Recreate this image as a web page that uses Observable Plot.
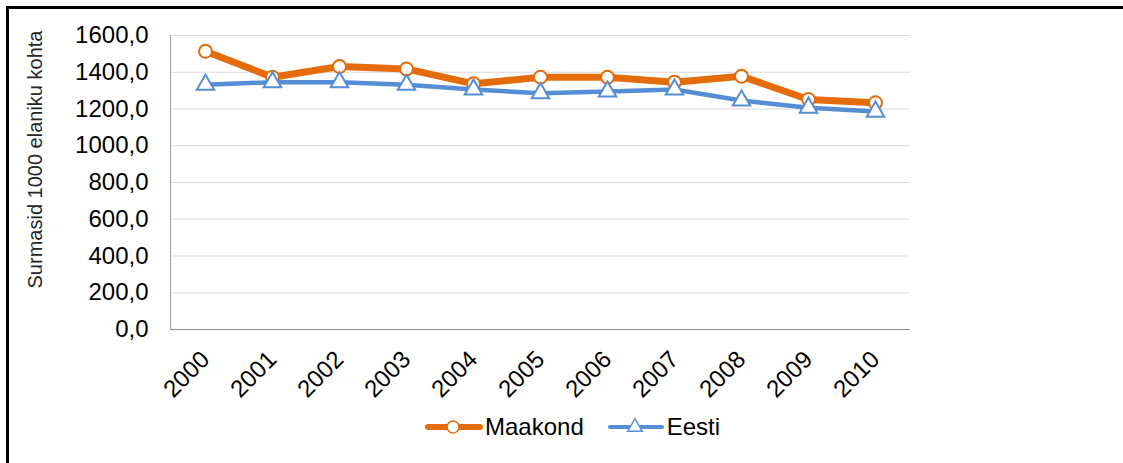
<!DOCTYPE html>
<html>
<head>
<meta charset="utf-8">
<script src="https://cdn.jsdelivr.net/npm/d3@7"></script>
<script src="https://cdn.jsdelivr.net/npm/@observablehq/plot@0.6"></script>
<style>
  html, body { margin: 0; padding: 0; background: #fff; }
  #wrap { position: relative; width: 1123px; height: 463px; background: #fff; overflow: hidden; font-family: "Liberation Sans", Arial, sans-serif; }
  #chart { position: absolute; left: 0; top: 0; }
  #border { position: absolute; left: 6px; top: 6px; right: -10px; bottom: -10px; border-left: 3px solid #000; border-top: 3px solid #000; pointer-events: none; }
  #legend { position: absolute; left: 425px; top: 413px; display: flex; align-items: center; font-size: 24px; color: #000; line-height: 28px; }
  .item { display: flex; align-items: center; }
  .item svg { display: block; }
</style>
</head>
<body>
<div id="wrap">
  <div id="chart"></div>
  <div id="legend"></div>
  <div id="border"></div>
</div>
<script>
const years = ["2000","2001","2002","2003","2004","2005","2006","2007","2008","2009","2010"];
const maakond = [1514, 1373, 1431, 1418, 1337, 1373, 1373, 1346, 1378, 1252, 1234];
const eesti = [1332, 1346, 1346, 1332, 1306, 1286, 1295, 1306, 1246, 1207, 1186];
const yTicks = [0, 200, 400, 600, 800, 1000, 1200, 1400, 1600];
const seriesNames = ["Maakond", "Eesti"];
const seriesColors = ["#E46C0A", "#558ED5"];
const yLabel = "Surmasid 1000 elaniku kohta";

const rowsM = years.map((y, i) => ({year: y, value: maakond[i], series: seriesNames[0]}));
const rowsE = years.map((y, i) => ({year: y, value: eesti[i], series: seriesNames[1]}));
const fmt = d => d.toFixed(1).replace(".", ",");

const plot = Plot.plot({
  width: 1123,
  height: 463,
  marginLeft: 170,
  marginRight: 213,
  marginTop: 35,
  marginBottom: 134,
  style: {fontFamily: "'Liberation Sans', Arial, sans-serif", fontSize: "24px", color: "#000", background: "transparent"},
  x: {type: "point", domain: years, padding: 0.5, axis: null},
  y: {domain: [0, 1600], axis: null},
  marks: [
    Plot.gridY(yTicks.slice(1), {stroke: "#d9d9d9", strokeOpacity: 1, strokeWidth: 1}),
    Plot.ruleY([0], {stroke: "#868686", strokeWidth: 1}),
    Plot.frame({anchor: "left", stroke: "#a0a0a0", strokeWidth: 1}),
    Plot.axisY(yTicks, {tickSize: 0, tickPadding: 22, tickFormat: fmt, fontSize: 24, label: null}),
    Plot.axisX({tickSize: 0, tickPadding: 26, tickRotate: -45, fontSize: 24, label: null}),
    Plot.text([yLabel], {frameAnchor: "left", textAnchor: "middle", rotate: -90, dx: -135, dy: -23, fontSize: 20, fill: "#262626"}),
    Plot.line(rowsM, {x: "year", y: "value", stroke: seriesColors[0], strokeWidth: 7, strokeLinejoin: "round", strokeLinecap: "round"}),
    Plot.dot(rowsM, {x: "year", y: "value", r: 6.5, fill: "white", stroke: seriesColors[0], strokeWidth: 2}),
    Plot.line(rowsE, {x: "year", y: "value", stroke: seriesColors[1], strokeWidth: 4.5, strokeLinejoin: "round", strokeLinecap: "round"}),
    Plot.dot(rowsE, {x: "year", y: "value", symbol: "triangle", r: 6.5, fill: "white", stroke: seriesColors[1], strokeWidth: 2})
  ]
});
document.getElementById("chart").appendChild(plot);

// legend
const legend = document.getElementById("legend");
const ns = "http://www.w3.org/2000/svg";
seriesNames.forEach((name, i) => {
  const item = document.createElement("div");
  item.className = "item";
  if (i > 0) item.style.marginLeft = "23px";
  const svg = document.createElementNS(ns, "svg");
  svg.setAttribute("width", 58);
  svg.setAttribute("height", 20);
  const ln = document.createElementNS(ns, "line");
  ln.setAttribute("x1", 3); ln.setAttribute("x2", 55);
  ln.setAttribute("y1", 10); ln.setAttribute("y2", 10);
  ln.setAttribute("stroke", seriesColors[i]);
  ln.setAttribute("stroke-width", i === 0 ? 6 : 4);
  ln.setAttribute("stroke-linecap", "round");
  svg.appendChild(ln);
  if (i === 0) {
    const c = document.createElementNS(ns, "circle");
    c.setAttribute("cx", 28); c.setAttribute("cy", 10); c.setAttribute("r", 6);
    c.setAttribute("fill", "white"); c.setAttribute("stroke", seriesColors[i]); c.setAttribute("stroke-width", 1.5);
    svg.appendChild(c);
  } else {
    const p = document.createElementNS(ns, "path");
    p.setAttribute("d", d3.symbol(d3.symbolTriangle, 90)());
    p.setAttribute("transform", "translate(28,10)");
    p.setAttribute("fill", "white"); p.setAttribute("stroke", seriesColors[i]); p.setAttribute("stroke-width", 1.5);
    svg.appendChild(p);
  }
  item.appendChild(svg);
  const t = document.createElement("span");
  t.textContent = name;
  t.style.marginLeft = "2px";
  item.appendChild(t);
  legend.appendChild(item);
});
</script>
</body>
</html>
